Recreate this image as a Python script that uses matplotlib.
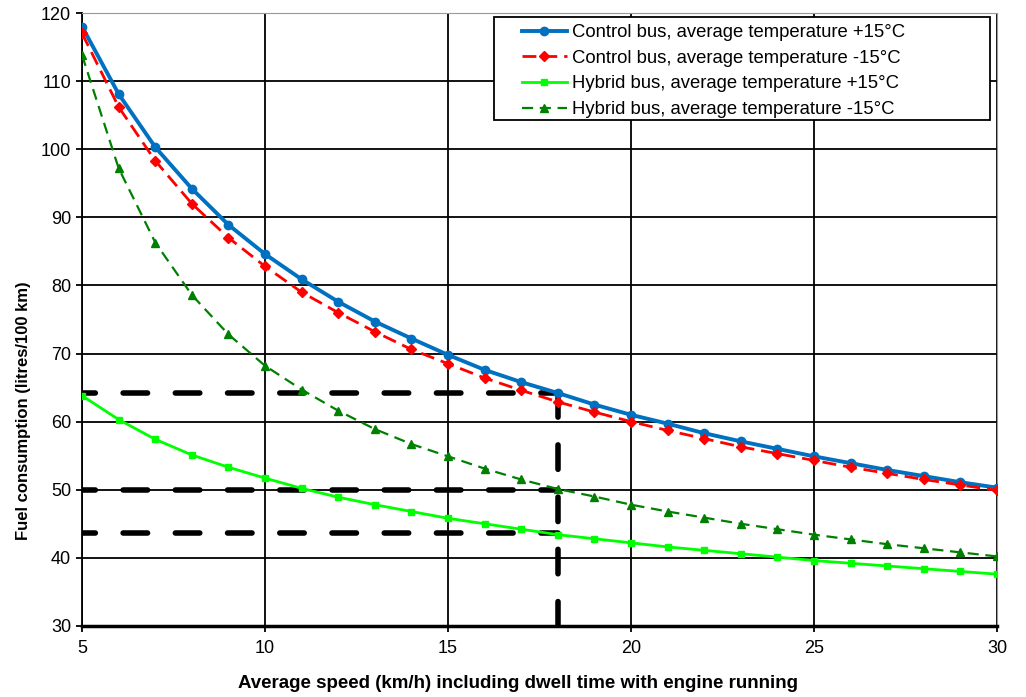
import matplotlib
matplotlib.use('Agg')
import matplotlib.pyplot as plt
from matplotlib.patches import Rectangle

plt.rcParams['font.family'] = ['Liberation Sans', 'DejaVu Sans']

# speeds (km/h)
speed = list(range(5, 31))

# fuel consumption (litres/100 km)
control_warm = [118, 108.1, 100.3, 94.2, 88.9, 84.6, 80.9, 77.6, 74.7, 72.2, 69.8, 67.6, 65.8,
                64.2, 62.5, 61.0, 59.7, 58.3, 57.1, 56.0, 54.9, 53.9, 52.9, 52.0, 51.1, 50.3]
control_cold = [117, 106.2, 98.3, 92.0, 87.0, 82.8, 79.0, 76.0, 73.2, 70.6, 68.5, 66.4, 64.6,
                62.9, 61.4, 60.0, 58.7, 57.5, 56.3, 55.3, 54.3, 53.3, 52.4, 51.5, 50.7, 49.9]
hybrid_warm = [63.8, 60.3, 57.4, 55.1, 53.3, 51.7, 50.2, 48.9, 47.8, 46.8, 45.8, 45.0, 44.2,
               43.4, 42.8, 42.2, 41.6, 41.1, 40.6, 40.1, 39.6, 39.2, 38.8, 38.4, 38.0, 37.6]
hybrid_cold = [113.8, 97.2, 86.3, 78.6, 72.8, 68.2, 64.7, 61.6, 58.9, 56.7, 54.9, 53.1, 51.5,
               50.1, 49.0, 47.8, 46.8, 45.9, 45.0, 44.2, 43.4, 42.7, 42.0, 41.4, 40.8, 40.2]

# reference lines at 18 km/h
ref_speed = 18
ref_levels = [64.2, 50.0, 43.6]

fig = plt.figure(figsize=(10.26, 6.97), dpi=100)
ax = fig.add_axes([0.08, 0.102, 0.8917, 0.8793])

# thick black dashed guide lines
ref_style = dict(color='black', lw=4, dash_capstyle='round', zorder=2)
for lvl in ref_levels:
    ax.plot([5, ref_speed], [lvl, lvl], ls=(2, (4.4, 5.0)), **ref_style)
# vertical one drawn from the bottom up
ax.plot([ref_speed, ref_speed], [30, ref_levels[0]], ls=(0, (4.4, 5.0)), **ref_style)

ax.plot(speed, control_warm, color='#0070C0', lw=2.8, marker='o', ms=6,
        label='Control bus, average temperature +15°C', zorder=4)
ax.plot(speed, control_cold, color='#FF0000', lw=2.0, ls=(0, (5, 2.5)), marker='D', ms=5,
        label='Control bus, average temperature -15°C', zorder=5)
ax.plot(speed, hybrid_warm, color='#00FF00', lw=2.0, marker='s', ms=5,
        label='Hybrid bus, average temperature +15°C', zorder=4)
ax.plot(speed, hybrid_cold, color='#008000', lw=1.6, ls=(0, (5, 3)), marker='^', ms=6,
        label='Hybrid bus, average temperature -15°C', zorder=4)

ax.set_xlim(5, 30)
ax.set_ylim(30, 120)
ax.set_xticks(range(5, 31, 5))
ax.set_yticks(range(30, 121, 10))
ax.grid(True, color='black', lw=1.3, zorder=1)
ax.set_axisbelow(True)
ax.tick_params(direction='out', length=4, width=1.3, labelsize=13)
ax.tick_params(axis='x', pad=6)
ax.tick_params(axis='y', pad=4)

for side in ['top', 'right']:
    ax.spines[side].set_color('#999999')
ax.spines['left'].set_linewidth(1.3)
ax.spines['bottom'].set_linewidth(2.5)

ax.set_xlabel('Average speed (km/h) including dwell time with engine running',
              fontsize=13.5, fontweight='bold')
ax.set_ylabel('Fuel consumption (litres/100 km)', fontsize=12, fontweight='bold')
ax.xaxis.set_label_coords(0.4765, -0.08)
ax.yaxis.set_label_coords(-0.056, 0.351)

# legend box like the original (wide, square, black edge)
ax.add_patch(Rectangle((0.450, 0.8254), 0.542, 0.1681, transform=ax.transAxes,
                       facecolor='white', edgecolor='black', lw=1.3, zorder=6))
leg = ax.legend(loc='upper left', bbox_to_anchor=(0.475, 0.991), fontsize=13.3,
                frameon=False, handlelength=2.4, handletextpad=0.3, borderpad=0.3,
                labelspacing=0.47, borderaxespad=0)
leg.set_zorder(7)

plt.savefig('out.png', dpi=100)
